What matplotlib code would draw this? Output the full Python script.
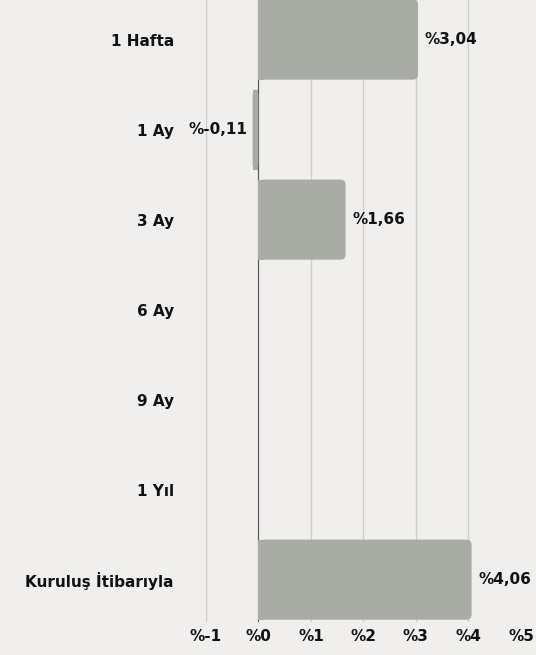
import matplotlib

matplotlib.use("Agg")
import matplotlib.pyplot as plt
from matplotlib.patches import FancyBboxPatch, Rectangle
import numpy as np

categories = ["1 Hafta", "1 Ay", "3 Ay", "6 Ay", "9 Ay", "1 Yıl", "Kuruluş İtibarıyla"]
values = [3.04, -0.11, 1.66, None, None, None, 4.06]
xticks = [-1, 0, 1, 2, 3, 4, 5]

bg = "#f0efed"
bar_color = "#a8aca5"
fs = 11

plt.rcParams["font.family"] = ["DejaVu Sans"]
plt.rcParams["font.weight"] = "bold"

fig = plt.figure(figsize=(5.36, 6.55), dpi=100, facecolor=bg)
ax = fig.add_axes([0.384, 0.0504, 0.588, 0.9496], facecolor=bg)

ypos = np.arange(len(categories))
vals = [v if v is not None else 0 for v in values]
bars = ax.barh(ypos, vals, height=0.89, color=bar_color, zorder=2)

ax.set_xlim(-1, 5)
ax.set_ylim(6.47, -0.44)

# rounded outer ends
rx = 0.1
aspect = (1 / 90) / (1 / 52.6)
for bar, v in zip(bars, values):
    bar.set_visible(False)
    if v is None:
        continue
    x0, y0 = bar.get_x(), bar.get_y()
    w, h = bar.get_width(), bar.get_height()
    left = min(x0, x0 + w)
    ax.add_patch(FancyBboxPatch((left, y0), abs(w), h,
                                boxstyle=f"round,pad=0,rounding_size={rx}",
                                mutation_aspect=aspect, fc=bar_color, ec="none",
                                zorder=2))
    sq = min(rx, abs(w))
    sx = 0 if w >= 0 else -sq
    ax.add_patch(Rectangle((sx, y0), sq, h, fc=bar_color, ec="none", zorder=2))
    label = "%" + f"{v:.2f}".replace(".", ",")
    if v >= 0:
        ax.text(v + 0.13, y0 + h / 2, label, ha="left", va="center",
                fontsize=fs, fontweight="bold", color="#111111", zorder=3)
    else:
        ax.text(v - 0.1, y0 + h / 2, label, ha="right", va="center",
                fontsize=fs, fontweight="bold", color="#111111", zorder=3)

ax.set_xticks(xticks)
ax.set_xticklabels(["%" + str(t) for t in xticks], fontsize=fs, fontweight="bold")
ax.set_yticks(ypos)
ax.set_yticklabels(categories, fontsize=fs, fontweight="bold")
ax.tick_params(axis="both", length=0, colors="#111111")
ax.tick_params(axis="y", pad=23)
ax.tick_params(axis="x", pad=5)

for t in xticks[:-1]:
    ax.axvline(t, color="#cdcdcb", lw=1, zorder=1)
ax.axvline(0, color="#555555", lw=0.8, zorder=1.5)

for s in ax.spines.values():
    s.set_visible(False)

fig.savefig("out.png", dpi=100, facecolor=bg)
